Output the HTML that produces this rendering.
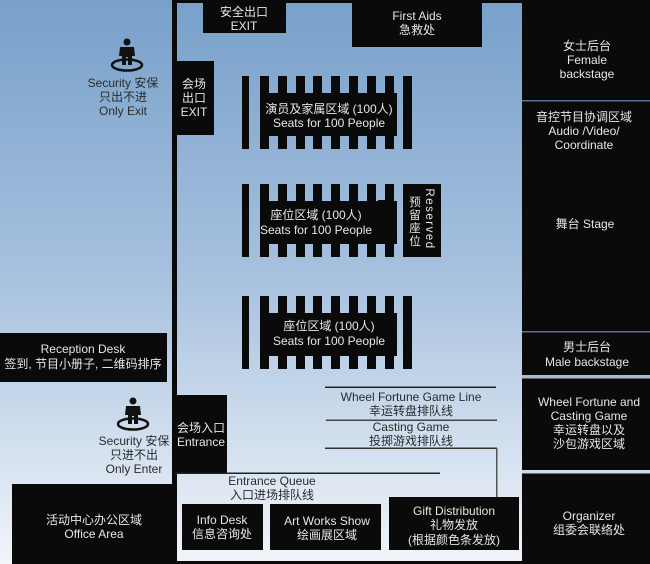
<!DOCTYPE html>
<html><head><meta charset="utf-8"><style>
html,body{margin:0;padding:0;width:650px;height:564px;overflow:hidden;background:#fff}
svg{display:block}
text{font-family:"Liberation Sans","Noto Sans CJK SC",sans-serif;font-size:12px;text-anchor:middle;dominant-baseline:central}
.w{fill:#e6e6e6}.d{fill:#2a2a2a}
</style></head><body>
<svg width="650" height="564" viewBox="0 0 650 564" xmlns="http://www.w3.org/2000/svg">
<defs>
<linearGradient id="g" x1="0" y1="0" x2="0" y2="1">
<stop offset="0" stop-color="#78a0ca"/><stop offset="0.5" stop-color="#a8c2df"/><stop offset="1" stop-color="#f2f5fa"/>
</linearGradient>
<g id="comb">
<rect x="0" y="0" width="7" height="73" fill="#0a0a0a"/>
<rect x="18" y="17" width="137" height="43" fill="#0a0a0a"/>
<rect x="18" y="0" width="9" height="73" fill="#0a0a0a"/>
<rect x="36" y="0" width="9" height="73" fill="#0a0a0a"/>
<rect x="54" y="0" width="9" height="73" fill="#0a0a0a"/>
<rect x="71" y="0" width="9" height="73" fill="#0a0a0a"/>
<rect x="89" y="0" width="9" height="73" fill="#0a0a0a"/>
<rect x="107" y="0" width="9" height="73" fill="#0a0a0a"/>
<rect x="125" y="0" width="9" height="73" fill="#0a0a0a"/>
<rect x="143" y="0" width="9" height="73" fill="#0a0a0a"/>
</g>
<g id="guard">
<circle cx="0" cy="0" r="3.5" fill="#111"/>
<path d="M-7 5 H7 L8 14 H5 V23 H1 V15 H-1 V23 H-5 V14 H-8 Z" fill="#111"/>
<ellipse cx="0" cy="23" rx="15" ry="5.5" fill="none" stroke="#111" stroke-width="2.5"/>
</g>
</defs>
<rect width="650" height="564" fill="url(#g)"/>
<!-- hall borders -->
<rect x="172" y="0" width="5" height="484" fill="#0a0a0a"/>
<rect x="175" y="0" width="347" height="3" fill="#0a0a0a"/>
<rect x="175" y="561" width="347" height="3" fill="#0a0a0a"/>
<!-- top boxes -->
<rect x="203" y="0" width="83" height="33" fill="#0a0a0a"/>
<text class="w" x="244" y="12">安全出口</text><text class="w" x="244" y="26">EXIT</text>
<rect x="352" y="0" width="130" height="47" fill="#0a0a0a"/>
<text class="w" x="417" y="16">First Aids</text><text class="w" x="417" y="30">急救处</text>
<rect x="175" y="61" width="39" height="74" fill="#0a0a0a"/>
<text class="w" x="194" y="84">会场</text><text class="w" x="194" y="98">出口</text><text class="w" x="194" y="112">EXIT</text>
<!-- security top -->
<use href="#guard" x="127" y="42"/>
<text class="d" x="123" y="83">Security 安保</text><text class="d" x="123" y="97">只出不进</text><text class="d" x="123" y="111">Only Exit</text>
<!-- seats -->
<use href="#comb" x="242" y="76"/>
<rect x="403" y="76" width="9" height="73" fill="#0a0a0a"/>
<text class="w" x="329" y="109">演员及家属区域 (100人)</text><text class="w" x="329" y="123">Seats for 100 People</text>
<use href="#comb" x="242" y="184"/>
<rect x="378" y="200" width="15" height="42" fill="#0a0a0a"/>
<rect x="385" y="184" width="9" height="73" fill="#0a0a0a"/>
<text class="w" x="316" y="215">座位区域 (100人)</text><text class="w" x="316" y="230">Seats for 100 People</text>
<rect x="403" y="184" width="38" height="73" fill="#0a0a0a"/>
<text class="w" x="415" y="203" style="font-size:11.5px">预</text><text class="w" x="415" y="216" style="font-size:11.5px">留</text><text class="w" x="415" y="229" style="font-size:11.5px">座</text><text class="w" x="415" y="242" style="font-size:11.5px">位</text>
<text class="w" transform="translate(429,219) rotate(90)" style="font-size:11.5px;letter-spacing:1.5px">Reserved</text>
<use href="#comb" x="242" y="296"/>
<rect x="403" y="296" width="9" height="73" fill="#0a0a0a"/>
<text class="w" x="329" y="326">座位区域 (100人)</text><text class="w" x="329" y="341">Seats for 100 People</text>
<!-- right panel -->
<rect x="522" y="0" width="128" height="564" fill="#0a0a0a"/>
<rect x="522" y="100" width="128" height="1.5" fill="#5a7090"/>
<rect x="522" y="331" width="128" height="1.5" fill="#5a7090"/>
<rect x="522" y="375" width="128" height="3.5" fill="#a8bdd4"/>
<rect x="522" y="470" width="128" height="3.5" fill="#d0dbe8"/>
<text class="w" x="587" y="46">女士后台</text><text class="w" x="587" y="60">Female</text><text class="w" x="587" y="74">backstage</text>
<text class="w" x="584" y="117">音控节目协调区域</text><text class="w" x="584" y="131">Audio /Video/</text><text class="w" x="584" y="145">Coordinate</text>
<text class="w" x="585" y="224">舞台 Stage</text>
<text class="w" x="587" y="347">男士后台</text><text class="w" x="587" y="362">Male backstage</text>
<text class="w" x="589" y="402">Wheel Fortune and</text><text class="w" x="589" y="416">Casting Game</text><text class="w" x="589" y="430">幸运转盘以及</text><text class="w" x="589" y="444">沙包游戏区域</text>
<text class="w" x="589" y="516">Organizer</text><text class="w" x="589" y="530">组委会联络处</text>
<!-- left -->
<rect x="0" y="333" width="167" height="49" fill="#0a0a0a"/>
<text class="w" x="83" y="349">Reception Desk</text><text class="w" x="83" y="364">签到, 节目小册子, 二维码排序</text>
<use href="#guard" x="133" y="401"/>
<text class="d" x="134" y="441">Security 安保</text><text class="d" x="134" y="455">只进不出</text><text class="d" x="134" y="469">Only Enter</text>
<rect x="175" y="395" width="52" height="79" fill="#0a0a0a"/>
<text class="w" x="201" y="428">会场入口</text><text class="w" x="201" y="442">Entrance</text>
<rect x="12" y="484" width="165" height="80" fill="#0a0a0a"/>
<text class="w" x="94" y="520">活动中心办公区域</text><text class="w" x="94" y="534">Office Area</text>
<!-- queues -->
<rect x="175" y="472.5" width="265" height="1.5" fill="#222"/>
<text class="d" x="272" y="481">Entrance Queue</text><text class="d" x="272" y="495">入口进场排队线</text>
<rect x="325" y="386.5" width="171" height="1.5" fill="#222"/>
<text class="d" x="411" y="397">Wheel Fortune Game Line</text><text class="d" x="411" y="411">幸运转盘排队线</text>
<rect x="326" y="419.5" width="171" height="1.5" fill="#444"/>
<text class="d" x="411" y="427">Casting Game</text><text class="d" x="411" y="441">投掷游戏排队线</text>
<rect x="325" y="447.5" width="172" height="1.5" fill="#333"/>
<rect x="496" y="448" width="1.5" height="50" fill="#555"/>
<!-- bottom boxes -->
<rect x="182" y="504" width="81" height="46" fill="#0a0a0a"/>
<text class="w" x="222" y="520">Info Desk</text><text class="w" x="222" y="534">信息咨询处</text>
<rect x="270" y="504" width="111" height="46" fill="#0a0a0a"/>
<text class="w" x="327" y="521">Art Works Show</text><text class="w" x="327" y="535">绘画展区域</text>
<rect x="389" y="497" width="130" height="53" fill="#0a0a0a"/>
<text class="w" x="454" y="511">Gift Distribution</text><text class="w" x="454" y="525">礼物发放</text><text class="w" x="454" y="540">(根据颜色条发放)</text>
</svg>
</body></html>
